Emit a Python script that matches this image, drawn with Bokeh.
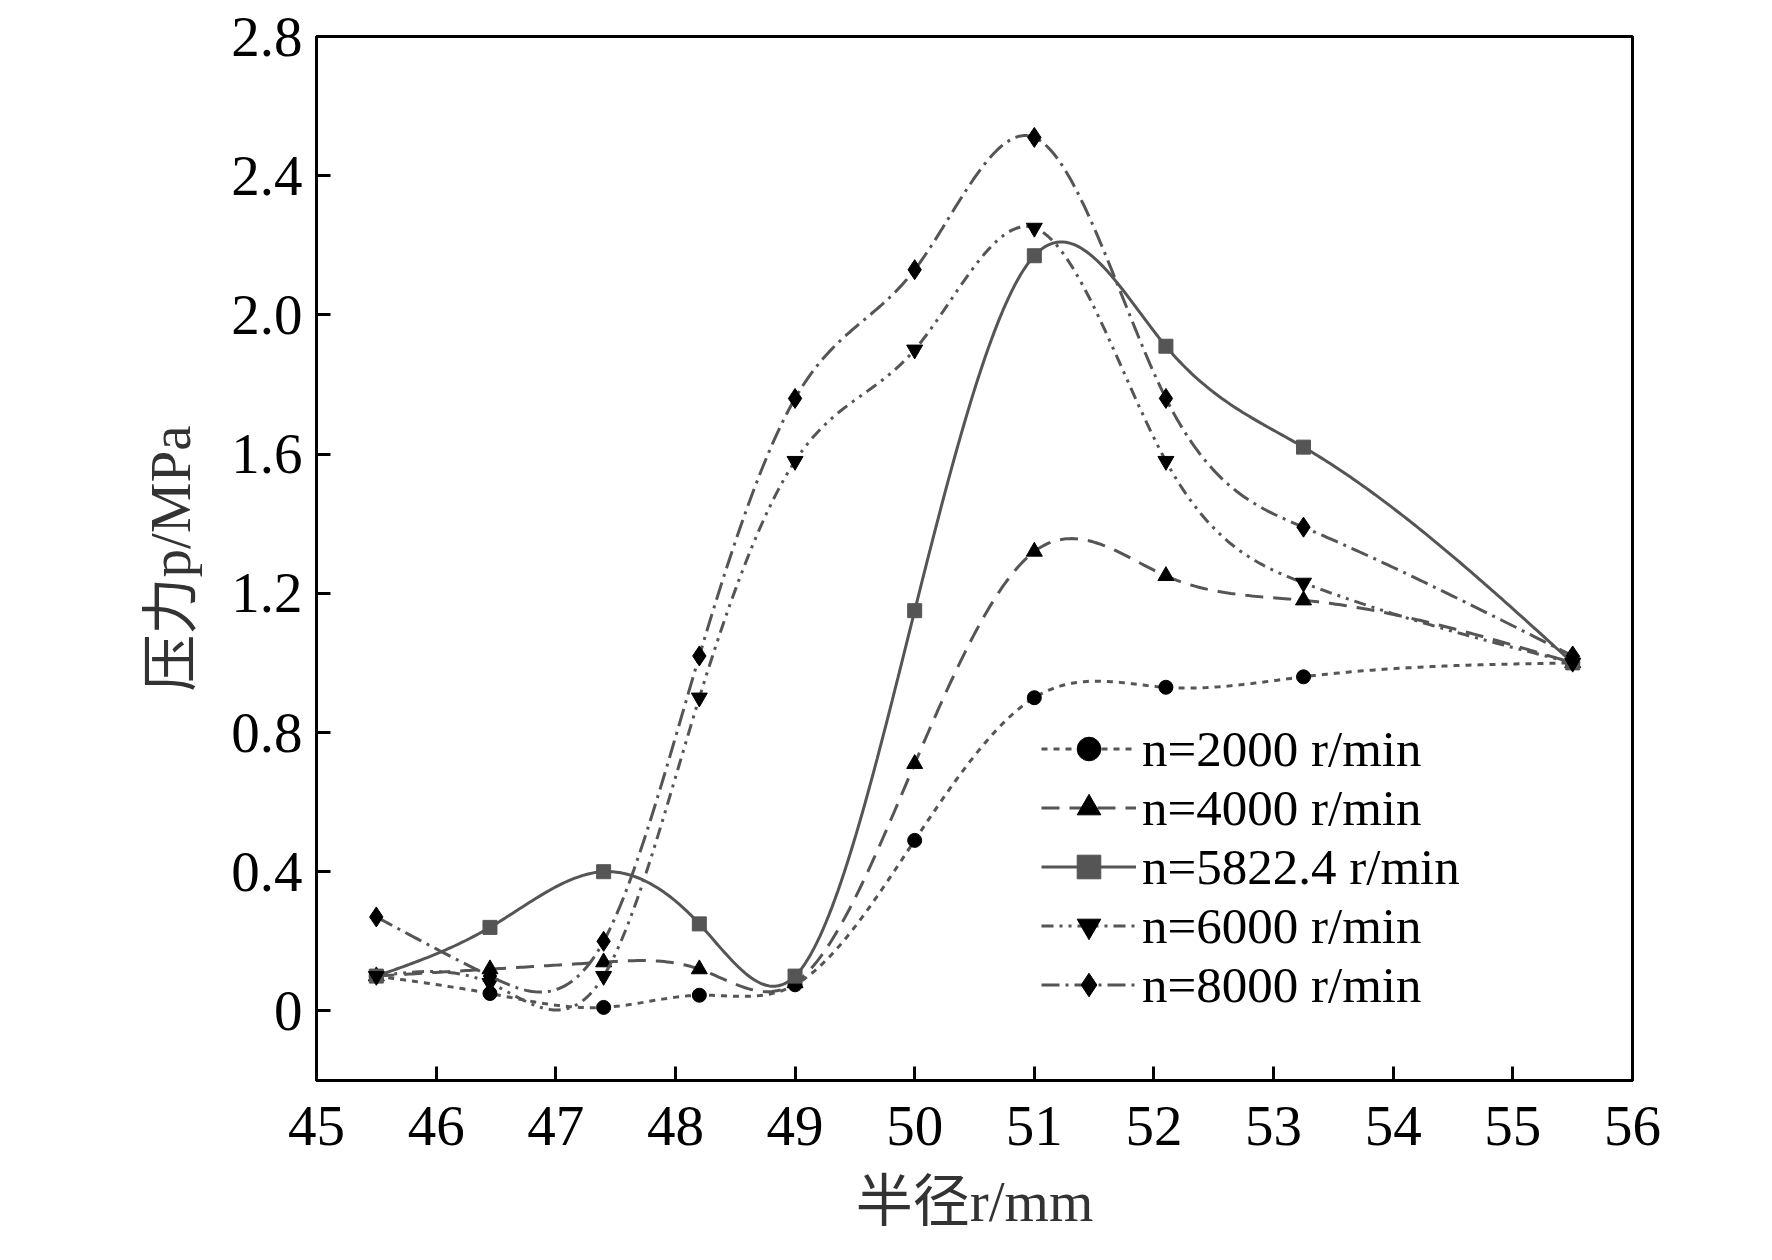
import numpy as np
from bokeh.plotting import figure
from bokeh.models import Legend, LegendItem, FixedTicker
from bokeh.embed import file_html
from bokeh.resources import INLINE

r = [45.5, 46.45, 47.4, 48.2, 49.0, 50.0, 51.0, 52.1, 53.25, 55.5]
p2000 = [0.10, 0.05, 0.01, 0.045, 0.075, 0.49, 0.90, 0.93, 0.96, 1.00]
p4000 = [0.10, 0.12, 0.14, 0.12, 0.08, 0.71, 1.32, 1.25, 1.18, 1.00]
p5822 = [0.10, 0.24, 0.40, 0.25, 0.10, 1.15, 2.17, 1.91, 1.62, 1.00]
p6000 = [0.10, 0.08, 0.10, 0.90, 1.58, 1.90, 2.25, 1.58, 1.23, 1.00]
p8000 = [0.27, 0.10, 0.20, 1.02, 1.76, 2.13, 2.51, 1.76, 1.39, 1.02]
labels = ["n=2000 r/min", "n=4000 r/min", "n=5822.4 r/min", "n=6000 r/min", "n=8000 r/min"]
xticks = list(range(45, 57))
yticks = [0, 0.4, 0.8, 1.2, 1.6, 2.0, 2.4, 2.8]

def spline(x, y, n=400):
    x = np.asarray(x, float); y = np.asarray(y, float)
    k = len(x); h = np.diff(x)
    A = np.zeros((k, k)); b = np.zeros(k)
    A[0, 0] = A[-1, -1] = 1
    for i in range(1, k - 1):
        A[i, i - 1] = h[i - 1]; A[i, i] = 2 * (h[i - 1] + h[i]); A[i, i + 1] = h[i]
        b[i] = 3 * ((y[i + 1] - y[i]) / h[i] - (y[i] - y[i - 1]) / h[i - 1])
    c = np.linalg.solve(A, b)
    xs = np.linspace(x[0], x[-1], n)
    idx = np.clip(np.searchsorted(x, xs) - 1, 0, k - 2)
    dx = xs - x[idx]
    bb = (y[1:] - y[:-1]) / h - h * (2 * c[:-1] + c[1:]) / 3
    d = (c[1:] - c[:-1]) / (3 * h)
    ys = y[idx] + bb[idx] * dx + c[idx] * dx ** 2 + d[idx] * dx ** 3
    return xs, ys

p = figure(width=1756, height=1244, x_range=(45, 56), y_range=(-0.2, 2.8),
           output_backend="svg", toolbar_location=None,
           min_border_left=316, min_border_right=124, min_border_top=36, min_border_bottom=164)
p.grid.visible = False
p.outline_line_color = "black"; p.outline_line_width = 3
p.background_fill_color = "white"

series = [p2000, p4000, p5822, p6000, p8000]
dashes = ["6 6", "18 10", "solid", "12 6 3 6 3 6", "18 6 3 6"]
markers = ["circle", "triangle", "square", "inverted_triangle", "diamond"]
msize = [14, 16, 14, 16, 20]
mcol = ["black", "black", "#555555", "black", "black"]
items = []
for ys, dsh, mk, ms, mc, lab in zip(series, dashes, markers, msize, mcol, labels):
    sx, sy = spline(r, ys)
    ln = p.line(sx, sy, line_color="#555555", line_width=3, line_dash=dsh)
    sc = p.scatter(r, ys, marker=mk, size=ms, fill_color=mc, line_color=mc)
    items.append(LegendItem(label=lab, renderers=[ln, sc]))

leg = Legend(items=items, location=(725, 66), background_fill_alpha=0, border_line_alpha=0,
             label_text_font="Liberation Serif", label_text_font_size="51px",
             label_text_color="black",
             glyph_width=95, glyph_height=59, label_height=59, spacing=0, padding=0, margin=0,
             label_standoff=6)
p.add_layout(leg, "center")

for ax in (p.xaxis[0], p.yaxis[0]):
    ax.axis_line_width = 3
    ax.major_tick_in = 14; ax.major_tick_out = 0
    ax.major_tick_line_width = 3
    ax.minor_tick_line_color = None
    ax.major_label_text_font = "Liberation Serif"
    ax.major_label_text_font_size = "57px"
    ax.major_label_text_color = "black"
    ax.axis_label_text_font = "Liberation Serif, Noto Sans CJK SC"
    ax.axis_label_text_font_size = "57px"
    ax.axis_label_text_font_style = "normal"
    ax.axis_label_text_color = "#333333"
p.xaxis.ticker = FixedTicker(ticks=xticks)
p.yaxis.ticker = FixedTicker(ticks=yticks)
p.yaxis.major_label_overrides = {0: "0", 2.0: "2.0"}
p.xaxis.axis_label = "半径r/mm"
p.yaxis.axis_label = "压力p/MPa"
p.xaxis.major_label_standoff = 26
p.yaxis.major_label_standoff = 14
p.xaxis.axis_label_standoff = 22
p.yaxis.axis_label_standoff = 26

open("out.html", "w").write(file_html(p, INLINE))
